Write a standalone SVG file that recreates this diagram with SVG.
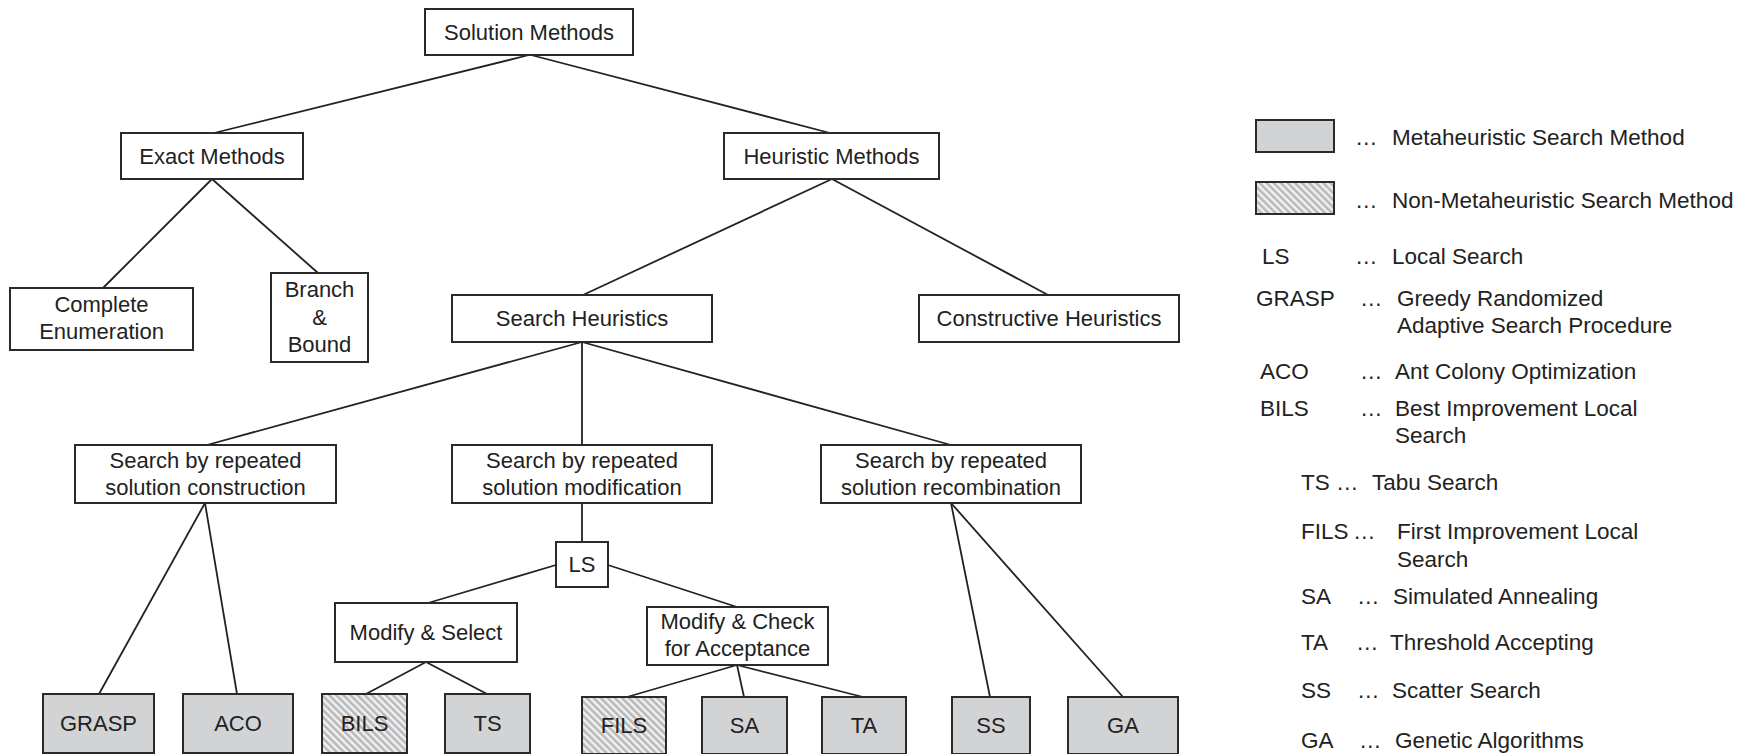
<svg xmlns="http://www.w3.org/2000/svg" width="1750" height="754" viewBox="0 0 1750 754">
<style>
.box{fill:#fff;stroke:#2a2a2a;stroke-width:2}
.meta{fill:#d2d3d5;stroke:#2a2a2a;stroke-width:2}
.non{fill:url(#hatch);stroke:#2a2a2a;stroke-width:2}
.t{font-family:"Liberation Sans",Arial,sans-serif;font-size:22px;fill:#222;text-anchor:middle}
.l{font-family:"Liberation Sans",Arial,sans-serif;font-size:22.5px;fill:#222}
.conn line{stroke:#222;stroke-width:1.8}
</style>
<defs>
<pattern id="hatch" patternUnits="userSpaceOnUse" width="5" height="5" patternTransform="rotate(-45)">
<rect width="5" height="5" fill="#f2f2f2"/>
<rect width="2.6" height="5" fill="#b8b9bb"/>
</pattern>
</defs>
<rect width="1750" height="754" fill="#fff"/>
<g class="conn" id="connectors">
<line x1="529" y1="55" x2="214" y2="133"/>
<line x1="531" y1="55" x2="830" y2="133"/>
<line x1="212" y1="179" x2="103" y2="288"/>
<line x1="212" y1="179" x2="318" y2="273"/>
<line x1="832" y1="179" x2="583" y2="295"/>
<line x1="832" y1="179" x2="1048" y2="295"/>
<line x1="582" y1="342" x2="207" y2="445"/>
<line x1="582" y1="342" x2="582" y2="445"/>
<line x1="582" y1="342" x2="951" y2="445"/>
<line x1="205" y1="503" x2="99" y2="694"/>
<line x1="205" y1="503" x2="237" y2="694"/>
<line x1="582" y1="503" x2="582" y2="542"/>
<line x1="556" y1="565" x2="428" y2="603"/>
<line x1="608" y1="565" x2="737" y2="607"/>
<line x1="426" y1="662" x2="366" y2="694"/>
<line x1="426" y1="662" x2="487" y2="694"/>
<line x1="737" y1="665" x2="627" y2="697"/>
<line x1="737" y1="665" x2="744" y2="697"/>
<line x1="737" y1="665" x2="863" y2="697"/>
<line x1="951" y1="503" x2="990" y2="697"/>
<line x1="951" y1="503" x2="1123" y2="697"/>
</g>
<g id="solution-methods"><rect class="box" x="425" y="9" width="208" height="46"/><text class="t" x="529" y="40">Solution Methods</text></g>
<g id="exact-methods"><rect class="box" x="121" y="133" width="182" height="46"/><text class="t" x="212" y="164">Exact Methods</text></g>
<g id="heuristic-methods"><rect class="box" x="724" y="133" width="215" height="46"/><text class="t" x="831.5" y="164">Heuristic Methods</text></g>
<g id="complete-enumeration"><rect class="box" x="10" y="288" width="183" height="62"/><text class="t" x="101.5" y="312">Complete</text><text class="t" x="101.5" y="339">Enumeration</text></g>
<g id="branch-bound"><rect class="box" x="271" y="273" width="97" height="89"/><text class="t" x="319.5" y="297">Branch</text><text class="t" x="319.5" y="325">&amp;</text><text class="t" x="319.5" y="352">Bound</text></g>
<g id="search-heuristics"><rect class="box" x="452" y="295" width="260" height="47"/><text class="t" x="582" y="326">Search Heuristics</text></g>
<g id="constructive-heuristics"><rect class="box" x="919" y="295" width="260" height="47"/><text class="t" x="1049" y="326">Constructive Heuristics</text></g>
<g id="repeated-construction"><rect class="box" x="75" y="445" width="261" height="58"/><text class="t" x="205.5" y="468">Search by repeated</text><text class="t" x="205.5" y="495">solution construction</text></g>
<g id="repeated-modification"><rect class="box" x="452" y="445" width="260" height="58"/><text class="t" x="582" y="468">Search by repeated</text><text class="t" x="582" y="495">solution modification</text></g>
<g id="repeated-recombination"><rect class="box" x="821" y="445" width="260" height="58"/><text class="t" x="951" y="468">Search by repeated</text><text class="t" x="951" y="495">solution recombination</text></g>
<g id="ls"><rect class="box" x="556" y="542" width="52" height="45"/><text class="t" x="582" y="572">LS</text></g>
<g id="modify-select"><rect class="box" x="335" y="603" width="182" height="59"/><text class="t" x="426" y="640">Modify &amp; Select</text></g>
<g id="modify-check"><rect class="box" x="647" y="607" width="181" height="58"/><text class="t" x="737.5" y="629">Modify &amp; Check</text><text class="t" x="737.5" y="656">for Acceptance</text></g>
<g id="grasp"><rect class="meta" x="43" y="694" width="111" height="59"/><text class="t" x="98.5" y="731">GRASP</text></g>
<g id="aco"><rect class="meta" x="183" y="694" width="110" height="59"/><text class="t" x="238" y="731">ACO</text></g>
<g id="bils"><rect class="non" x="322" y="694" width="85" height="59"/><text class="t" x="364.5" y="731">BILS</text></g>
<g id="ts"><rect class="meta" x="445" y="694" width="85" height="59"/><text class="t" x="487.5" y="731">TS</text></g>
<g id="fils"><rect class="non" x="582" y="697" width="84" height="57"/><text class="t" x="624" y="733">FILS</text></g>
<g id="sa"><rect class="meta" x="702" y="697" width="85" height="57"/><text class="t" x="744.5" y="733">SA</text></g>
<g id="ta"><rect class="meta" x="822" y="697" width="84" height="57"/><text class="t" x="864" y="733">TA</text></g>
<g id="ss"><rect class="meta" x="952" y="697" width="78" height="57"/><text class="t" x="991" y="733">SS</text></g>
<g id="ga"><rect class="meta" x="1068" y="697" width="110" height="57"/><text class="t" x="1123" y="733">GA</text></g>
<g id="legend">
<rect class="meta" x="1256" y="120" width="78" height="32"/>
<text class="l" x="1355" y="145">…</text><text class="l" x="1392" y="145">Metaheuristic Search Method</text>
<rect class="non" x="1256" y="182" width="78" height="32"/>
<text class="l" x="1355" y="208">…</text><text class="l" x="1392" y="208">Non-Metaheuristic Search Method</text>
<text class="l" x="1262" y="264">LS</text><text class="l" x="1355" y="264">…</text><text class="l" x="1392" y="264">Local Search</text>
<text class="l" x="1256" y="306">GRASP</text><text class="l" x="1360" y="306">…</text><text class="l" x="1397" y="306">Greedy Randomized</text>
<text class="l" x="1397" y="333">Adaptive Search Procedure</text>
<text class="l" x="1260" y="379">ACO</text><text class="l" x="1360" y="379">…</text><text class="l" x="1395" y="379">Ant Colony Optimization</text>
<text class="l" x="1260" y="416">BILS</text><text class="l" x="1360" y="416">…</text><text class="l" x="1395" y="416">Best Improvement Local</text>
<text class="l" x="1395" y="443">Search</text>
<text class="l" x="1301" y="490">TS</text><text class="l" x="1336" y="490">…</text><text class="l" x="1372" y="490">Tabu Search</text>
<text class="l" x="1301" y="539">FILS</text><text class="l" x="1353" y="539">…</text><text class="l" x="1397" y="539">First Improvement Local</text>
<text class="l" x="1397" y="567">Search</text>
<text class="l" x="1301" y="604">SA</text><text class="l" x="1357" y="604">…</text><text class="l" x="1393" y="604">Simulated Annealing</text>
<text class="l" x="1301" y="650">TA</text><text class="l" x="1356" y="650">…</text><text class="l" x="1390" y="650">Threshold Accepting</text>
<text class="l" x="1301" y="698">SS</text><text class="l" x="1357" y="698">…</text><text class="l" x="1392" y="698">Scatter Search</text>
<text class="l" x="1301" y="748">GA</text><text class="l" x="1359" y="748">…</text><text class="l" x="1395" y="748">Genetic Algorithms</text>
</g>
</svg>
